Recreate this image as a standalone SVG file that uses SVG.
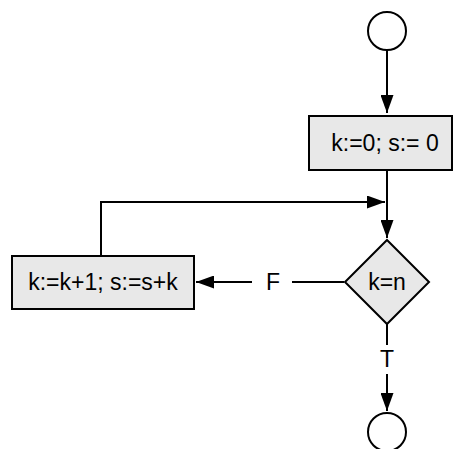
<svg xmlns="http://www.w3.org/2000/svg" width="455" height="449" viewBox="0 0 455 449">
<style>
.n{fill:#e8e8e8;stroke:#000;stroke-width:2}
.c{fill:#fff;stroke:#000;stroke-width:2}
.l{fill:none;stroke:#000;stroke-width:2}
text{font-family:"Liberation Sans",Arial,sans-serif;font-size:23px;fill:#000;text-anchor:middle;dominant-baseline:central}
</style>
<defs>
<marker id="a" markerWidth="18" markerHeight="13" viewBox="0 0 18 13" refX="18" refY="6.5" orient="auto" markerUnits="userSpaceOnUse">
<path d="M0,0 L18,6.5 L0,13 Z" fill="#000"/>
</marker>
</defs>
<rect width="455" height="449" fill="#fff"/>
<g id="connectors">
<path class="l" d="M387,50 V113" marker-end="url(#a)"/>
<path class="l" d="M387,170 V238" marker-end="url(#a)"/>
<path class="l" d="M101,256 V202 H385" marker-end="url(#a)"/>
<path class="l" d="M344,282 H292"/>
<path class="l" d="M252,282 H196" marker-end="url(#a)"/>
<path class="l" d="M387,324 V345"/>
<path class="l" d="M387,374 V411" marker-end="url(#a)"/>
<text x="273" y="282">F</text>
<text x="387" y="359">T</text>
</g>
<g id="start"><circle class="c" cx="387" cy="31" r="19"/></g>
<g id="init"><rect class="n" x="309" y="116" width="143" height="54"/><text x="385" y="143">k:=0; s:= 0</text></g>
<g id="cond"><path class="n" d="M387,240 L429,282 L387,324 L345,282 Z"/><text x="387" y="282">k=n</text></g>
<g id="step"><rect class="n" x="12" y="256" width="182" height="53"/><text x="103" y="282">k:=k+1; s:=s+k</text></g>
<g id="end"><circle class="c" cx="387" cy="432" r="19"/></g>
</svg>
